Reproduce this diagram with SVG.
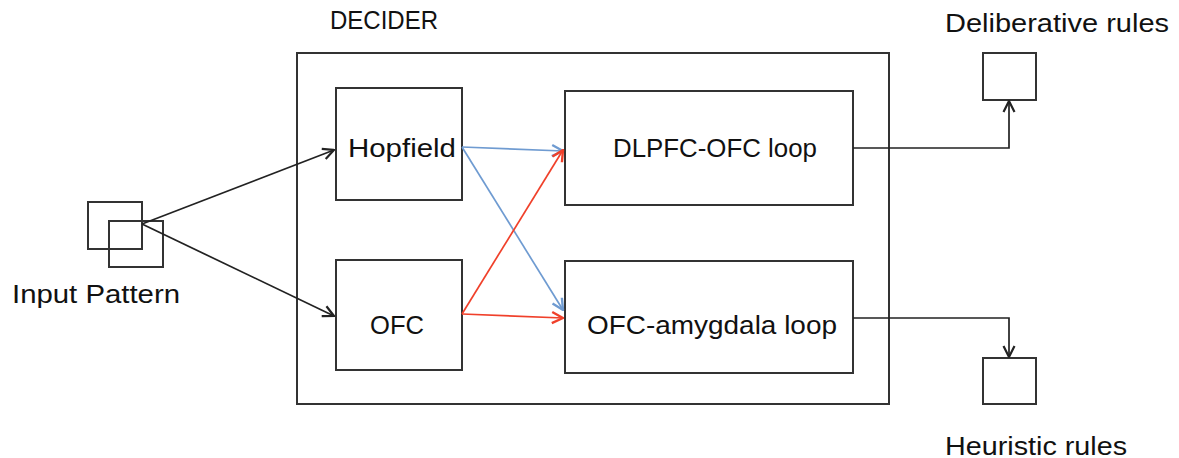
<svg xmlns="http://www.w3.org/2000/svg" width="1179" height="458" viewBox="0 0 1179 458">
  <style>
    .box { fill: #fff; stroke: #333; stroke-width: 2; }
    .hollow { fill: none; stroke: #333; stroke-width: 2; }
    .lbl { font-family: "Liberation Sans", Arial, sans-serif; font-size: 25px; fill: #111; }
    .wire { fill: none; stroke: #222; stroke-width: 1.7; }
    .blue { fill: none; stroke: #6f9bd1; stroke-width: 1.7; }
    .red { fill: none; stroke: #f0402a; stroke-width: 1.7; }
  </style>
  <defs>
    <marker id="headBlack" viewBox="0 0 14 14" refX="13" refY="7" markerWidth="14" markerHeight="14" markerUnits="userSpaceOnUse" orient="auto">
      <path d="M2 1.5 L13 7 L2 12.5" fill="none" stroke="#222" stroke-width="2.2"/>
    </marker>
    <marker id="headBlue" viewBox="0 0 14 14" refX="13" refY="7" markerWidth="14" markerHeight="14" markerUnits="userSpaceOnUse" orient="auto">
      <path d="M2 1.5 L13 7 L2 12.5" fill="none" stroke="#6f9bd1" stroke-width="2.4"/>
    </marker>
    <marker id="headRed" viewBox="0 0 14 14" refX="13" refY="7" markerWidth="14" markerHeight="14" markerUnits="userSpaceOnUse" orient="auto">
      <path d="M2 1.5 L13 7 L2 12.5" fill="none" stroke="#f0402a" stroke-width="2.4"/>
    </marker>
  </defs>

  <rect width="1179" height="458" fill="#fff"/>

  <!-- decider frame -->
  <g id="decider">
    <rect class="box" x="297" y="53" width="592" height="351"/>
    <text class="lbl" x="330" y="29" textLength="108" lengthAdjust="spacingAndGlyphs">DECIDER</text>
  </g>

  <!-- input pattern: two overlapping squares -->
  <g id="input-pattern">
    <rect class="hollow" x="88" y="202" width="54" height="47"/>
    <rect class="hollow" x="109" y="221" width="54" height="46"/>
    <text class="lbl" x="12" y="303" textLength="168" lengthAdjust="spacingAndGlyphs">Input Pattern</text>
  </g>

  <g id="hopfield">
    <rect class="box" x="336" y="88" width="126" height="112"/>
    <text class="lbl" x="348" y="157" textLength="108" lengthAdjust="spacingAndGlyphs">Hopfield</text>
  </g>

  <g id="ofc">
    <rect class="box" x="336" y="260" width="126" height="110"/>
    <text class="lbl" x="370" y="334" textLength="54" lengthAdjust="spacingAndGlyphs">OFC</text>
  </g>

  <g id="dlpfc-ofc-loop">
    <rect class="box" x="565" y="91" width="288" height="114"/>
    <text class="lbl" x="613" y="157" textLength="204" lengthAdjust="spacingAndGlyphs">DLPFC-OFC loop</text>
  </g>

  <g id="ofc-amygdala-loop">
    <rect class="box" x="565" y="261" width="288" height="112"/>
    <text class="lbl" x="587" y="334" textLength="250" lengthAdjust="spacingAndGlyphs">OFC-amygdala loop</text>
  </g>

  <g id="deliberative-rules">
    <rect class="box" x="983" y="53" width="53" height="47"/>
    <text class="lbl" x="945" y="32" textLength="224" lengthAdjust="spacingAndGlyphs">Deliberative rules</text>
  </g>

  <g id="heuristic-rules">
    <rect class="box" x="983" y="358" width="53" height="46"/>
    <text class="lbl" x="945" y="455" textLength="182" lengthAdjust="spacingAndGlyphs">Heuristic rules</text>
  </g>

  <!-- connectors -->
  <g id="connectors">
    <path class="wire" d="M142 224 L334 150" marker-end="url(#headBlack)"/>
    <path class="wire" d="M142 224 L334 316" marker-end="url(#headBlack)"/>

    <path class="blue" d="M462 147 L563 151" marker-end="url(#headBlue)"/>
    <path class="blue" d="M462 147 L563 310" marker-end="url(#headBlue)"/>
    <path class="red" d="M462 314 L563 150" marker-end="url(#headRed)"/>
    <path class="red" d="M462 314 L563 318" marker-end="url(#headRed)"/>

    <path class="wire" d="M853 148 L1009 148 L1009 101" marker-end="url(#headBlack)"/>
    <path class="wire" d="M853 318 L1009 318 L1009 357" marker-end="url(#headBlack)"/>
  </g>
</svg>
